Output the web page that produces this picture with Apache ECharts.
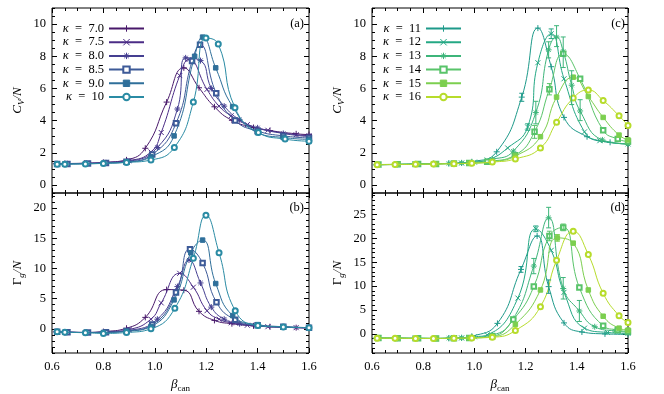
<!DOCTYPE html>
<html>
<head>
<meta charset="utf-8">
<script src="https://cdn.jsdelivr.net/npm/echarts@6/dist/echarts.min.js"></script>
<style>
  html, body { margin: 0; padding: 0; background: #fff; }
  #chart { width: 664px; height: 394px; }
</style>
</head>
<body>
<div id="chart"></div>
<script>
const SERIF = '"Liberation Serif", "DejaVu Serif", serif';

// kappa values shown in the legends
const kappaLeft = ["7.0", "7.5", "8.0", "8.5", "9.0", "10"];
const kappaRight = ["11", "12", "13", "14", "15", "16"];

// tick labels
const ticksCv = [0, 2, 4, 6, 8, 10];
const ticksGamLeft = [0, 5, 10, 15, 20];
const ticksGamRight = [0, 5, 10, 15, 20, 25];

// panel (a): C_V/N, [beta, value]
const cv70 = [[0.615,1.32],[0.65,1.33],[0.727,1.35],[0.80,1.40],[0.89,1.56],[0.963,2.28],[1.046,5.15],[1.113,7.28],[1.172,6.04],[1.232,4.86],[1.30,4.02],[1.384,3.57],[1.448,3.38],[1.55,3.18],[1.60,3.13]];
const cv75 = [[0.62,1.32],[0.66,1.33],[0.735,1.35],[0.81,1.40],[0.90,1.52],[0.985,2.05],[1.025,3.26],[1.097,6.8],[1.133,7.8],[1.203,5.94],[1.25,4.9],[1.297,4.3],[1.36,3.75],[1.44,3.4],[1.55,3.12],[1.60,3.07]];
const cv80 = [[0.62,1.31],[0.66,1.32],[0.735,1.34],[0.81,1.38],[0.90,1.48],[1.01,2.33],[1.088,4.72],[1.12,7.9],[1.178,7.73],[1.22,6.0],[1.27,4.9],[1.33,4.05],[1.40,3.55],[1.50,3.2],[1.60,3.0]];
const cv85 = [[0.62,1.3],[0.66,1.31],[0.74,1.33],[0.81,1.37],[0.89,1.44],[0.99,1.9],[1.0825,3.83],[1.145,7.7],[1.176,8.72],[1.239,5.7],[1.313,4.0],[1.40,3.35],[1.50,3.05],[1.60,2.92]];
const cv90 = [[0.62,1.3],[0.65,1.31],[0.73,1.32],[0.80,1.35],[0.89,1.42],[0.985,1.75],[1.075,3.05],[1.155,8.0],[1.186,9.19],[1.237,7.28],[1.303,4.87],[1.40,3.25],[1.50,2.95],[1.60,2.83]];
const cv100 = [[0.62,1.28],[0.65,1.29],[0.73,1.31],[0.80,1.34],[0.89,1.40],[0.985,1.55],[1.076,2.33],[1.15,5.15],[1.199,9.13],[1.247,8.76],[1.312,4.8],[1.403,3.26],[1.507,2.85],[1.60,2.72]];

// panel (b): Gamma_g/N
const gm70 = [[0.615,-0.5],[0.65,-0.55],[0.727,-0.6],[0.80,-0.45],[0.89,0.1],[0.963,1.9],[1.046,6.5],[1.113,6.4],[1.172,2.9],[1.232,1.4],[1.30,0.85],[1.384,0.5],[1.448,0.35],[1.55,0.2],[1.60,0.15]];
const gm75 = [[0.62,-0.5],[0.66,-0.55],[0.735,-0.6],[0.81,-0.5],[0.90,-0.1],[0.985,1.6],[1.025,4.3],[1.097,9.2],[1.15,6.9],[1.203,3.0],[1.25,1.6],[1.297,1.0],[1.36,0.6],[1.44,0.35],[1.55,0.2],[1.60,0.15]];
const gm80 = [[0.62,-0.5],[0.66,-0.55],[0.735,-0.6],[0.81,-0.55],[0.90,-0.25],[1.01,1.6],[1.088,7.0],[1.133,11.4],[1.178,7.6],[1.22,3.6],[1.27,1.6],[1.33,0.85],[1.40,0.5],[1.50,0.3],[1.60,0.15]];
const gm85 = [[0.62,-0.5],[0.66,-0.55],[0.74,-0.6],[0.81,-0.55],[0.89,-0.35],[0.99,0.7],[1.0825,6.0],[1.137,13.2],[1.186,10.9],[1.24,4.4],[1.313,1.5],[1.40,0.6],[1.50,0.35],[1.60,0.2]];
const gm90 = [[0.62,-0.5],[0.65,-0.55],[0.73,-0.6],[0.80,-0.6],[0.89,-0.4],[0.985,0.4],[1.075,4.8],[1.14,12.6],[1.186,14.7],[1.237,7.5],[1.303,2.2],[1.40,0.7],[1.50,0.35],[1.60,0.2]];
const gm100 = [[0.62,-0.5],[0.65,-0.55],[0.73,-0.65],[0.80,-0.75],[0.89,-0.6],[0.985,0.0],[1.078,3.4],[1.15,11.7],[1.199,18.8],[1.25,12.6],[1.313,3.0],[1.401,0.55],[1.50,0.3],[1.60,0.2]];

// panel (c): C_V/N
const cv11 = [[0.615,1.25],[0.69,1.27],[0.76,1.29],[0.84,1.31],[0.90,1.34],[0.95,1.37],[0.99,1.44],[1.087,2.06],[1.185,5.46],[1.248,9.75],[1.30,7.35],[1.35,4.2],[1.44,3.0],[1.53,2.65],[1.60,2.55]];
const cv12 = [[0.625,1.26],[0.70,1.28],[0.77,1.3],[0.85,1.32],[0.95,1.36],[1.0,1.42],[1.05,1.55],[1.13,2.3],[1.208,3.6],[1.248,7.6],[1.30,9.4],[1.35,6.6],[1.43,3.3],[1.49,2.75],[1.60,2.55]];
const cv13 = [[0.62,1.27],[0.70,1.28],[0.77,1.3],[0.84,1.32],[0.90,1.34],[0.95,1.37],[1.07,1.6],[1.152,2.1],[1.24,4.5],[1.29,8.4],[1.321,9.2],[1.347,8.3],[1.38,6.2],[1.413,4.6],[1.50,2.8],[1.60,2.55]];
const cv14 = [[0.625,1.27],[0.70,1.28],[0.78,1.3],[0.85,1.31],[0.92,1.33],[0.98,1.36],[1.05,1.45],[1.158,1.85],[1.235,3.3],[1.293,5.95],[1.347,8.15],[1.413,6.6],[1.503,3.4],[1.56,2.85],[1.60,2.7]];
const cv15 = [[0.62,1.26],[0.70,1.28],[0.77,1.29],[0.85,1.31],[0.92,1.33],[0.98,1.35],[1.07,1.45],[1.16,1.8],[1.258,3.0],[1.321,5.46],[1.386,6.7],[1.445,5.5],[1.503,4.2],[1.565,3.1],[1.60,2.8]];
const cv16 = [[0.62,1.25],[0.69,1.27],[0.77,1.28],[0.84,1.3],[0.92,1.32],[0.99,1.35],[1.07,1.42],[1.16,1.62],[1.258,2.3],[1.321,3.9],[1.386,5.4],[1.445,5.9],[1.503,5.25],[1.565,4.3],[1.60,3.7]];

// panel (d): Gamma_g/N
const gm11 = [[0.615,-0.9],[0.69,-0.9],[0.76,-0.95],[0.84,-0.95],[0.90,-0.9],[0.95,-0.8],[0.99,-0.5],[1.09,2.2],[1.182,13.5],[1.245,20.5],[1.29,9.9],[1.35,2.3],[1.42,0.4],[1.51,0.0],[1.60,-0.1]];
const gm12 = [[0.625,-0.9],[0.70,-0.9],[0.77,-0.95],[0.85,-0.95],[0.95,-0.85],[1.0,-0.6],[1.05,-0.2],[1.17,7.5],[1.24,22.0],[1.30,17.5],[1.35,8.7],[1.43,1.2],[1.52,0.3],[1.60,0.1]];
const gm13 = [[0.62,-0.85],[0.70,-0.9],[0.77,-0.9],[0.84,-0.95],[0.90,-0.9],[0.95,-0.85],[1.07,-0.2],[1.152,3.2],[1.232,14.2],[1.29,24.3],[1.347,9.5],[1.41,4.8],[1.47,1.5],[1.55,0.6],[1.60,0.4]];
const gm14 = [[0.625,-0.85],[0.70,-0.9],[0.78,-0.9],[0.85,-0.95],[0.92,-0.9],[0.98,-0.85],[1.07,-0.5],[1.152,3.0],[1.232,9.9],[1.293,20.5],[1.347,22.3],[1.41,9.7],[1.503,1.7],[1.56,0.8],[1.60,0.5]];
const gm15 = [[0.62,-0.9],[0.70,-0.9],[0.77,-0.95],[0.85,-0.95],[0.92,-0.9],[0.98,-0.85],[1.07,-0.6],[1.16,2.0],[1.258,9.2],[1.324,20.1],[1.386,19.0],[1.445,9.2],[1.503,3.7],[1.565,1.2],[1.60,0.8]];
const gm16 = [[0.62,-0.9],[0.69,-0.9],[0.77,-0.95],[0.84,-0.95],[0.92,-0.9],[0.99,-0.85],[1.07,-0.7],[1.16,0.7],[1.258,5.7],[1.321,15.4],[1.386,21.5],[1.445,16.6],[1.503,8.5],[1.565,3.8],[1.60,2.4]];

// error bars: [beta, low, high, kappa index]
const errC = [[1.185,5.2,5.7,0],[1.208,3.4,3.8,1],[1.30,9.1,9.7,1],[1.24,3.8,5.2,2],[1.29,7.9,8.9,2],[1.321,8.6,9.9,2],[1.347,7.3,9.2,2],[1.38,5.0,7.1,2],[1.413,4.0,5.3,2],[1.235,2.9,3.7,3],[1.293,5.6,6.3,3]];
const errD = [[1.182,12.9,14.1,0],[1.29,8.5,11.3,0],[1.24,21.4,22.6,1],[1.232,12.6,15.8,2],[1.29,22.2,26.5,2],[1.347,7.3,11.8,2],[1.41,2.6,7.0,2],[1.293,19.5,21.5,3],[1.347,21.6,23.0,3],[1.324,19.4,20.8,4]];

const colorsLeft = ["#48186a", "#4b2c86", "#453f91", "#3d5a98", "#2f6f9a", "#2a8ba4"];
const colorsRight = ["#1e9a8a", "#24a884", "#3db57a", "#59c46a", "#7ccf4f", "#b7dc2b"];
const markers = [
  "path://M5 0L5 10M0 5L10 5",
  "path://M0 0L10 10M0 10L10 0",
  "path://M5 0L5 10M0 5L10 5M1.5 1.5L8.5 8.5M1.5 8.5L8.5 1.5",
  "emptyRect",
  "rect",
  "emptyCircle",
];
const markerSizes = [6, 5, 6, 4.5, 4.5, 5];

const black = { color: "#000", width: 1 };
const richName = {
  i: { fontFamily: SERIF, fontStyle: "italic", fontSize: 13, lineHeight: 16, color: "#000" },
  r: { fontFamily: SERIF, fontSize: 13, lineHeight: 16, color: "#000" },
  s: { fontFamily: SERIF, fontStyle: "italic", fontSize: 9, lineHeight: 9, verticalAlign: "bottom", color: "#000" },
  u: { fontFamily: SERIF, fontSize: 9, lineHeight: 9, verticalAlign: "bottom", color: "#000" },
};

const panels = [
  { grid: { left: 52, right: 355, top: 8, height: 185 }, min: -0.5, max: 11, ticks: ticksCv, step: 0.5,
    xLabels: false, name: "{i|C}{s|V}{i|/N}", data: [cv70, cv75, cv80, cv85, cv90, cv100], kappa: kappaLeft, colors: colorsLeft },
  { grid: { left: 52, right: 355, top: 193, height: 162 }, min: -4, max: 22.5, ticks: ticksGamLeft, step: 1,
    xLabels: true, name: "{r|Γ}{s|g}{i|/N}", data: [gm70, gm75, gm80, gm85, gm90, gm100], kappa: kappaLeft, colors: colorsLeft },
  { grid: { left: 372, right: 36, top: 8, height: 185 }, min: -0.5, max: 11, ticks: ticksCv, step: 0.5,
    xLabels: false, name: "{i|C}{s|V}{i|/N}", data: [cv11, cv12, cv13, cv14, cv15, cv16], kappa: kappaRight, colors: colorsRight, err: errC },
  { grid: { left: 372, right: 36, top: 193, height: 162 }, min: -4, max: 29.5, ticks: ticksGamRight, step: 1,
    xLabels: true, name: "{r|Γ}{s|g}{i|/N}", data: [gm11, gm12, gm13, gm14, gm15, gm16], kappa: kappaRight, colors: colorsRight, err: errD },
];

const grids = [];
const xAxes = [];
const yAxes = [];
const series = [];

panels.forEach((p, gi) => {
  grids.push(Object.assign({ show: true, borderColor: "#000", borderWidth: 1, backgroundColor: "transparent" }, p.grid));

  const xBase = {
    type: "value", gridIndex: gi, min: 0.6, max: 1.6, interval: 0.2,
    axisLine: { show: false, onZero: false }, splitLine: { show: false },
    axisTick: { show: true, inside: true, length: 5, lineStyle: black },
    minorTick: { show: true, splitNumber: 4, length: 3, lineStyle: black },
  };
  xAxes.push(Object.assign({}, xBase, {
    position: "bottom",
    axisLabel: { show: p.xLabels, margin: 7, color: "#000", fontFamily: SERIF, fontSize: 12.5, formatter: (v) => v.toFixed(1) },
    name: p.xLabels ? "{i|β}{u|can}" : "", nameLocation: "middle", nameGap: 24,
    nameTextStyle: { rich: richName },
  }));
  xAxes.push(Object.assign({}, xBase, { position: "top", axisLabel: { show: false } }));

  const yBase = { type: "value", gridIndex: gi, min: p.min, max: p.max, axisLine: { show: false, onZero: false }, splitLine: { show: false } };
  ["left", "right"].forEach((pos) => {
    yAxes.push(Object.assign({}, yBase, {
      position: pos,
      axisTick: { show: true, inside: true, length: 5, customValues: p.ticks, lineStyle: black },
      axisLabel: { show: pos === "left", customValues: p.ticks, margin: 6, color: "#000", fontFamily: SERIF, fontSize: 12.5 },
      name: pos === "left" ? p.name : "", nameLocation: "middle", nameGap: 26,
      nameTextStyle: { rich: richName },
    }));
    yAxes.push(Object.assign({}, yBase, {
      position: pos, interval: p.step,
      axisTick: { show: true, inside: true, length: 3, lineStyle: black },
      axisLabel: { show: false },
    }));
  });

  p.data.forEach((d, k) => {
    const c = p.colors[k];
    series.push({
      type: "line", name: "κ = " + p.kappa[k], xAxisIndex: 2 * gi, yAxisIndex: 4 * gi,
      data: d, smooth: true, symbol: markers[k], symbolSize: markerSizes[k], showAllSymbol: true,
      lineStyle: { color: c, width: 1 },
      itemStyle: { color: c, borderColor: c, borderWidth: 1 },
      z: 2 + k,
    });
  });

  if (p.err) {
    const cols = p.colors;
    series.push({
      type: "custom", xAxisIndex: 2 * gi, yAxisIndex: 4 * gi, data: p.err, z: 10,
      encode: { x: 0, y: [1, 2] },
      renderItem: (params, api) => {
        const lo = api.coord([api.value(0), api.value(1)]);
        const hi = api.coord([api.value(0), api.value(2)]);
        const st = { stroke: cols[api.value(3)], lineWidth: 1 };
        return { type: "group", children: [
          { type: "line", shape: { x1: lo[0], y1: lo[1], x2: hi[0], y2: hi[1] }, style: st },
          { type: "line", shape: { x1: lo[0] - 2.5, y1: lo[1], x2: lo[0] + 2.5, y2: lo[1] }, style: st },
          { type: "line", shape: { x1: hi[0] - 2.5, y1: hi[1], x2: hi[0] + 2.5, y2: hi[1] }, style: st },
        ] };
      },
    });
  }
});

function legendFor(kappa, right) {
  return {
    data: kappa.map((k) => "κ = " + k),
    orient: "vertical", align: "right", right: right, top: 22, padding: 0,
    itemWidth: 35, itemHeight: 8, itemGap: 0.7, selectedMode: false,
    itemStyle: { borderWidth: 1 },
    formatter: (n) => "{k|κ}\u2002=\u2002" + n.split(" = ")[1],
    textStyle: {
      fontFamily: SERIF, fontSize: 12.5, color: "#000", lineHeight: 12,
      rich: { k: { fontFamily: SERIF, fontStyle: "italic", fontSize: 12.5, lineHeight: 12, color: "#000" } },
    },
  };
}

const letterStyle = { fontFamily: SERIF, fontSize: 12.5, fill: "#000" };
const chart = echarts.init(document.getElementById("chart"));
chart.setOption({
  animation: false,
  backgroundColor: "#fff",
  grid: grids,
  xAxis: xAxes,
  yAxis: yAxes,
  legend: [legendFor(kappaLeft, 519), legendFor(kappaRight, 202)],
  graphic: [
    { type: "text", right: 360, top: 17, style: Object.assign({ text: "(a)" }, letterStyle) },
    { type: "text", right: 360, top: 201, style: Object.assign({ text: "(b)" }, letterStyle) },
    { type: "text", right: 39, top: 17, style: Object.assign({ text: "(c)" }, letterStyle) },
    { type: "text", right: 39, top: 201, style: Object.assign({ text: "(d)" }, letterStyle) },
  ],
  series: series,
});
</script>
</body>
</html>
